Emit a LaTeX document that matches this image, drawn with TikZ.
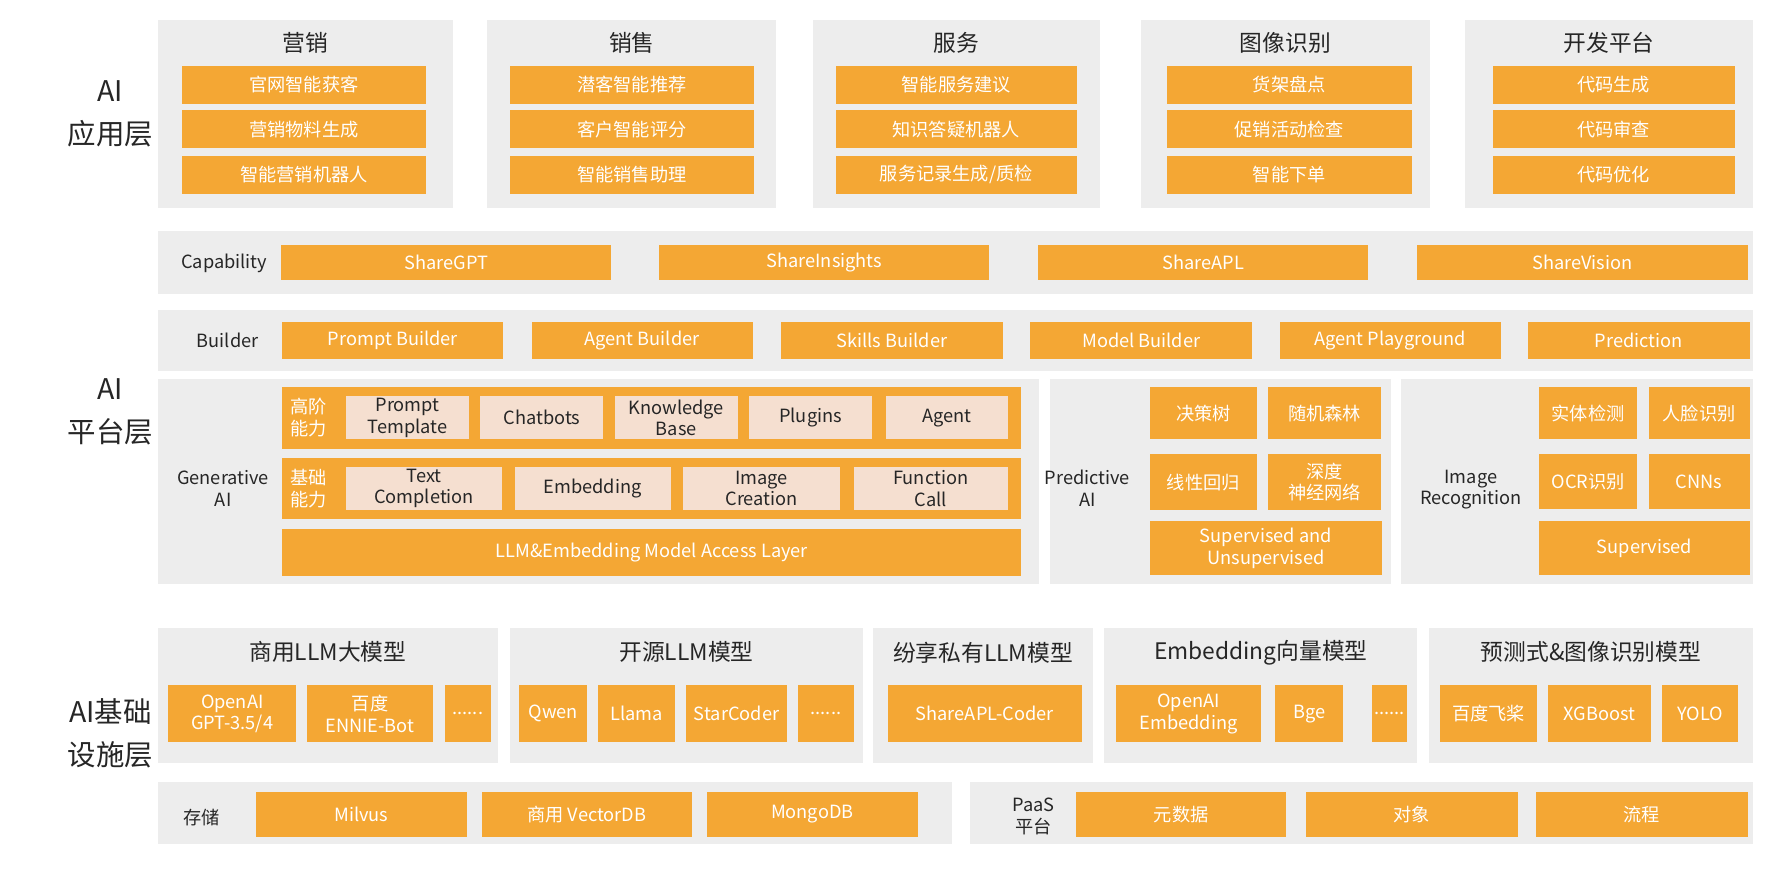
\documentclass[tikz,border=0pt]{standalone}
\usepackage{fontspec}
\setmainfont{Noto Sans CJK SC}
\begin{document}
\begin{tikzpicture}[x=0.5pt,y=-0.5pt,
  gray/.style={fill=gb,draw=none},
  org/.style={fill=og,draw=none,text=white,font=\fontsize{8}{9.5}\selectfont,align=center},
  lt/.style={fill=lb,draw=none,text=black!85,font=\fontsize{8}{9.5}\selectfont,align=center},
  ttl/.style={font=\fontsize{10}{12}\selectfont,text=black!85},
  lab/.style={font=\fontsize{8}{9.5}\selectfont,text=black!85,align=center},
  big/.style={font=\fontsize{12.5}{19}\selectfont,text=black!85,align=center}]
\definecolor{og}{HTML}{F4A734}
\definecolor{gb}{HTML}{EDEDED}
\definecolor{lb}{HTML}{F5DFD0}
\newcommand\bx[6]{\path[#6] (#1,#2) rectangle (#3,#4) node[midway,#6] (#5) {};}
\newcommand\tb[7]{\node[#6,minimum width={(#3-#1)*0.5pt},minimum height={(#4-#2)*0.5pt},inner sep=0pt] (#5) at ({(#1+#3)/2},{(#2+#4)/2}) {#7};}
\useasboundingbox[fill=white] (0,0) rectangle (1560,778);
% App layer
\node[big] (l1) at (97,100) {AI\\应用层};
\foreach \a/\b/\t/\i [count=\k] in {139/398/营销/160,428/682/销售/448,714/966/服务/734,1002/1256/图像识别/1025,1287/1540/开发平台/1311}{
  \tb{\a}{18}{\b}{183}{g\k}{gray}{}
  \node[ttl] (t\k) at ({(\a+\b)/2},38) {\t};
}
\foreach \x [count=\k] in {160,448,734,1025,1311}{
  \pgfmathsetmacro\xe{\x+214}
}
\tb{160}{58}{374}{91}{a1}{org}{官网智能获客}
\tb{160}{97}{374}{130}{a2}{org}{营销物料生成}
\tb{160}{137}{374}{170}{a3}{org}{智能营销机器人}
\tb{448}{58}{662}{91}{b1}{org}{潜客智能推荐}
\tb{448}{97}{662}{130}{b2}{org}{客户智能评分}
\tb{448}{137}{662}{170}{b3}{org}{智能销售助理}
\tb{734}{58}{946}{91}{c1}{org}{智能服务建议}
\tb{734}{97}{946}{130}{c2}{org}{知识答疑机器人}
\tb{734}{137}{946}{170}{c3}{org}{服务记录生成/质检}
\tb{1025}{58}{1240}{91}{d1}{org}{货架盘点}
\tb{1025}{97}{1240}{130}{d2}{org}{促销活动检查}
\tb{1025}{137}{1240}{170}{d3}{org}{智能下单}
\tb{1311}{58}{1524}{91}{e1}{org}{代码生成}
\tb{1311}{97}{1524}{130}{e2}{org}{代码审查}
\tb{1311}{137}{1524}{170}{e3}{org}{代码优化}
% Capability
\tb{139}{203}{1540}{258}{cap}{gray}{}
\node[lab] (capl) at (197,231) {Capability};
\tb{247}{215}{537}{246}{cp1}{org}{ShareGPT}
\tb{579}{215}{869}{246}{cp2}{org}{ShareInsights}
\tb{912}{215}{1202}{246}{cp3}{org}{ShareAPL}
\tb{1245}{215}{1535}{246}{cp4}{org}{ShareVision}
% Builder
\tb{139}{272}{1540}{326}{bld}{gray}{}
\node[lab] (bldl) at (200,299) {Builder};
\tb{248}{283}{442}{315}{bd1}{org}{Prompt Builder}
\tb{467}{283}{661}{315}{bd2}{org}{Agent Builder}
\tb{686}{283}{881}{315}{bd3}{org}{Skills Builder}
\tb{905}{283}{1100}{315}{bd4}{org}{Model Builder}
\tb{1124}{283}{1318}{315}{bd5}{org}{Agent Playground}
\tb{1342}{283}{1537}{315}{bd6}{org}{Prediction}
\node[big] (l2) at (97,362) {AI\\平台层};
% Generative
\tb{139}{333}{913}{513}{gen}{gray}{}
\node[lab] (genl) at (196,429) {Generative\\AI};
\tb{248}{340}{897}{394}{h1}{org}{}
\node[org,fill=none] (h1l) at (271,367) {高阶\\能力};
\tb{304}{348}{412}{386}{h11}{lt}{Prompt\\Template}
\tb{422}{348}{530}{386}{h12}{lt}{Chatbots}
\tb{540}{348}{648}{386}{h13}{lt}{Knowledge\\Base}
\tb{658}{348}{766}{386}{h14}{lt}{Plugins}
\tb{778}{348}{885}{386}{h15}{lt}{Agent}
\tb{248}{402}{897}{456}{h2}{org}{}
\node[org,fill=none] (h2l) at (271,429) {基础\\能力};
\tb{304}{410}{441}{448}{h21}{lt}{Text\\Completion}
\tb{452}{410}{589}{448}{h22}{lt}{Embedding}
\tb{600}{410}{738}{448}{h23}{lt}{Image\\Creation}
\tb{750}{410}{885}{448}{h24}{lt}{Function\\Call}
\tb{248}{465}{897}{506}{h3}{org}{LLM\&Embedding Model Access Layer}
% Predictive
\tb{922}{333}{1222}{513}{pred}{gray}{}
\node[lab] (predl) at (955,429) {Predictive\\AI};
\tb{1010}{340}{1104}{386}{p1}{org}{决策树}
\tb{1114}{340}{1213}{386}{p2}{org}{随机森林}
\tb{1010}{399}{1104}{448}{p3}{org}{线性回归}
\tb{1114}{399}{1213}{448}{p4}{org}{深度\\神经网络}
\tb{1010}{458}{1214}{505}{p5}{org}{Supervised and\\Unsupervised}
% Image
\tb{1231}{333}{1540}{513}{img}{gray}{}
\node[lab] (imgl) at (1292,430) {Image\\Recognition};
\tb{1352}{340}{1438}{386}{i1}{org}{实体检测}
\tb{1448}{340}{1537}{386}{i2}{org}{人脸识别}
\tb{1352}{399}{1438}{447}{i3}{org}{OCR识别}
\tb{1448}{399}{1537}{447}{i4}{org}{CNNs}
\tb{1352}{458}{1537}{505}{i5}{org}{Supervised}
% Infra
\node[big] (l3) at (97,644) {AI基础\\设施层};
\foreach \a/\b/\t [count=\k] in {139/437/商用LLM大模型,448/758/开源LLM模型,767/960/纷享私有LLM模型,970/1245/Embedding向量模型,1255/1540/预测式\&图像识别模型}{
  \tb{\a}{552}{\b}{670}{m\k}{gray}{}
  \node[ttl] (mt\k) at ({(\a+\b)/2},573) {\t};
}
\tb{148}{602}{260}{652}{n1}{org}{OpenAI\\GPT-3.5/4}
\tb{270}{602}{380}{652}{n2}{org}{百度\\ENNIE-Bot}
\tb{391}{602}{431}{652}{n3}{org}{......}
\tb{456}{602}{516}{652}{o1}{org}{Qwen}
\tb{525}{602}{593}{652}{o2}{org}{Llama}
\tb{603}{602}{691}{652}{o3}{org}{StarCoder}
\tb{701}{602}{750}{652}{o4}{org}{......}
\tb{780}{602}{950}{652}{s1}{org}{ShareAPL-Coder}
\tb{980}{602}{1108}{652}{q1}{org}{OpenAI\\Embedding}
\tb{1120}{602}{1180}{652}{q2}{org}{Bge}
\tb{1205}{602}{1236}{652}{q3}{org}{......}
\tb{1265}{602}{1350}{652}{r1}{org}{百度飞桨}
\tb{1360}{602}{1450}{652}{r2}{org}{XGBoost}
\tb{1460}{602}{1527}{652}{r3}{org}{YOLO}
% storage
\tb{139}{687}{836}{741}{st}{gray}{}
\node[lab] (stl) at (177,718) {存储};
\tb{225}{696}{410}{735}{st1}{org}{Milvus}
\tb{423}{696}{608}{735}{st2}{org}{商用 VectorDB}
\tb{621}{696}{806}{735}{st3}{org}{MongoDB}
\tb{852}{687}{1540}{741}{pa}{gray}{}
\node[lab] (pal) at (908,717) {PaaS\\平台};
\tb{945}{696}{1130}{735}{pa1}{org}{元数据}
\tb{1147}{696}{1333}{735}{pa2}{org}{对象}
\tb{1349}{696}{1535}{735}{pa3}{org}{流程}
\end{tikzpicture}
\end{document}
